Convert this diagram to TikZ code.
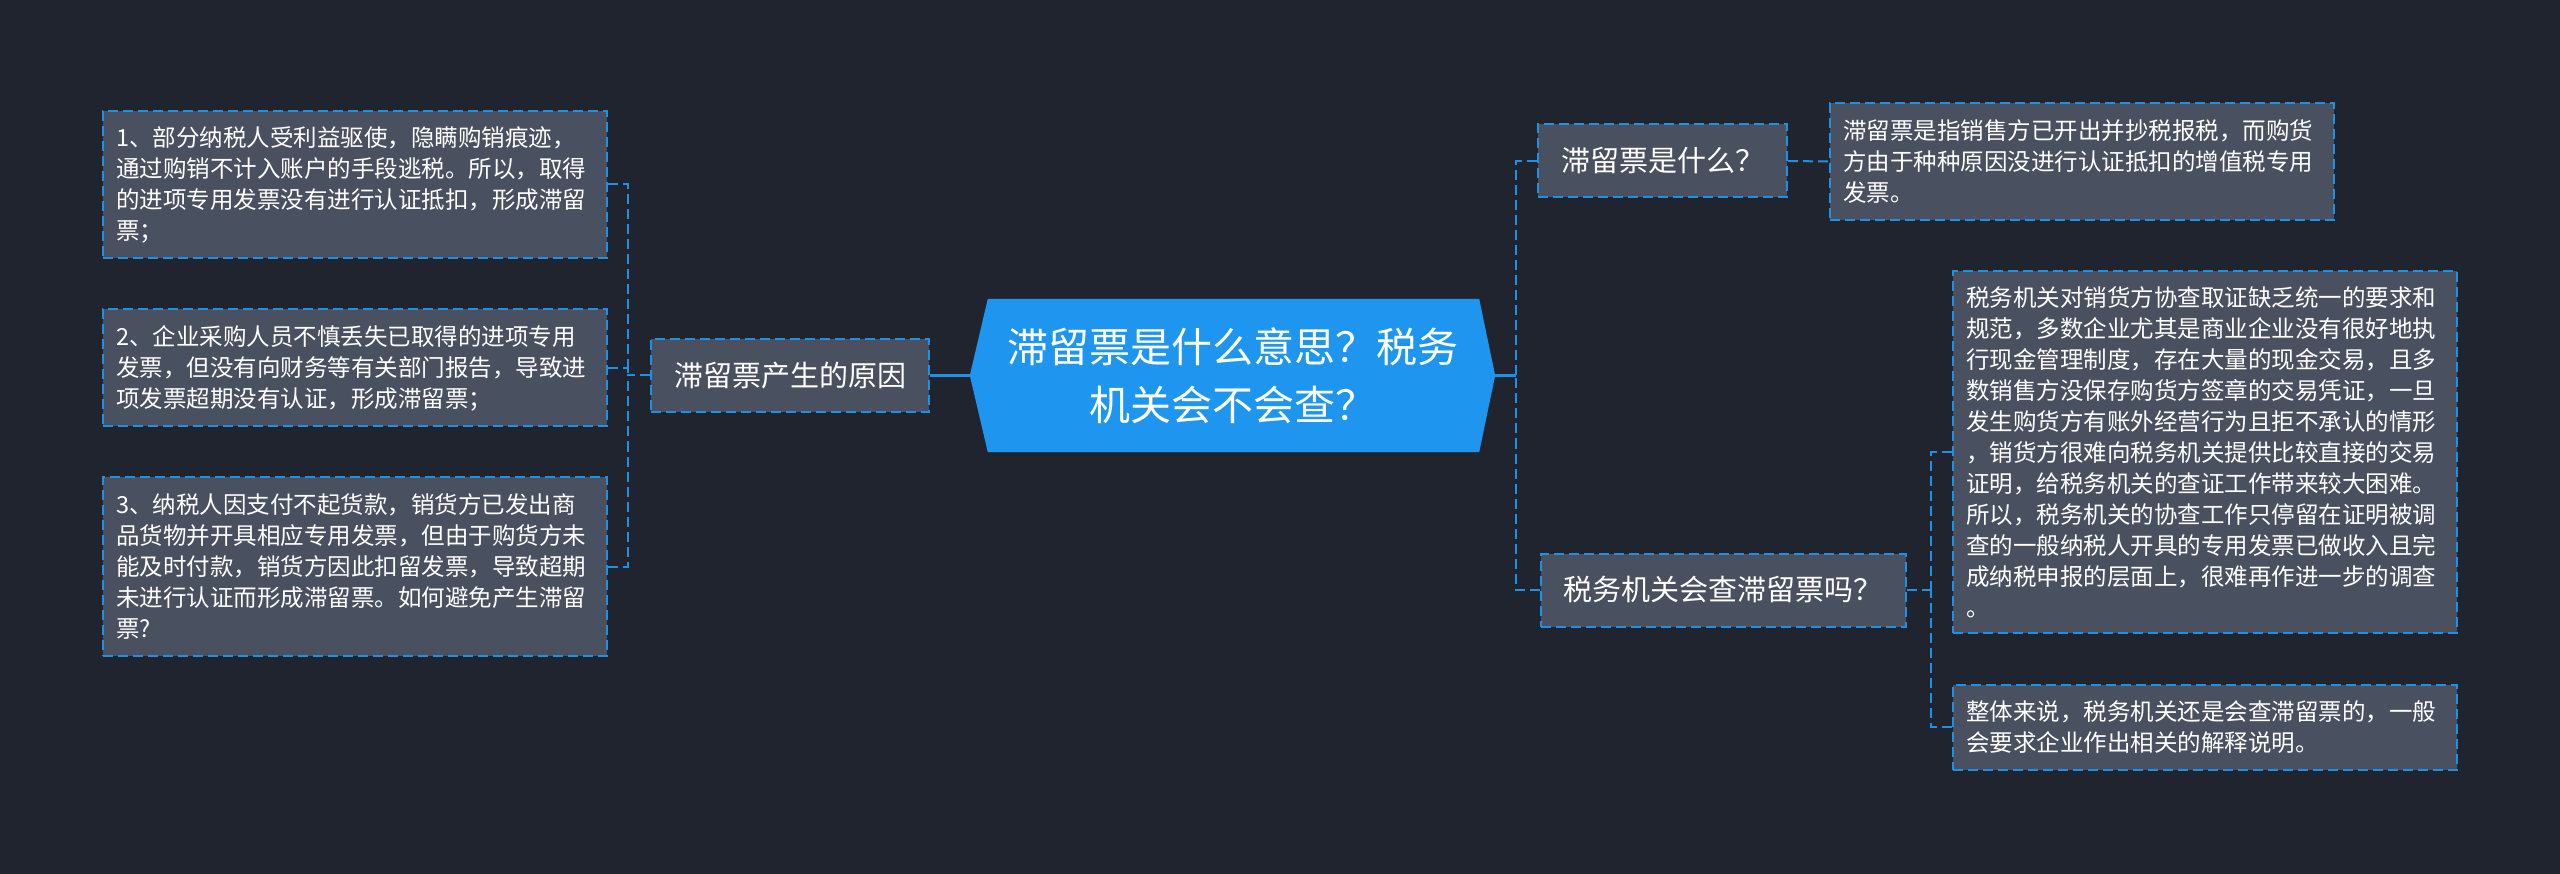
\documentclass[tikz,border=0pt]{standalone}
\usepackage{fontspec}
\setmainfont{Noto Sans CJK SC}
\usetikzlibrary{backgrounds}

\begin{document}
\begin{tikzpicture}[
  x=1pt, y=-1pt,
  every node/.style={text=white},
  leaf/.style={draw=lineBlue, fill=boxFill, line width=2pt, dash pattern=on 10pt off 5pt,
    align=left, text width=478pt, inner xsep=13pt, font=\fontsize{23.5}{31}\selectfont},
  topic/.style={draw=lineBlue, fill=boxFill, line width=2pt, dash pattern=on 10pt off 5pt,
    minimum height=73pt, inner xsep=23pt, font=\fontsize{29}{35}\selectfont},
  title/.style={minimum width=525pt, minimum height=153pt, align=center,
    font=\fontsize{41}{58}\selectfont},
  link/.style={draw=lineBlue, line width=2pt, dash pattern=on 10pt off 5pt},
  mainlink/.style={draw=lineBlue, line width=2.5pt},
]

\definecolor{bgDark}{RGB}{32,36,47}
\definecolor{boxFill}{RGB}{73,80,95}
\definecolor{lineBlue}{RGB}{27,145,232}
\definecolor{mainFill}{RGB}{30,150,240}

\useasboundingbox (0,0) rectangle (2560,874);

% Central topic.
\node[title] (main) at (1232.5,375.5) {滞留票是什么意思？税务\\机关会不会查？};

% Left branch.
\node[topic] (causes) at (790,375.5) {滞留票产生的原因};
\node[leaf, minimum height=147pt] (cause1) at (355,184.5) {1、部分纳税人受利益驱使，隐瞒购销痕迹，\\通过购销不计入账户的手段逃税。所以，取得\\的进项专用发票没有进行认证抵扣，形成滞留\\票；};
\node[leaf, minimum height=117pt] (cause2) at (355,368) {2、企业采购人员不慎丢失已取得的进项专用\\发票，但没有向财务等有关部门报告，导致进\\项发票超期没有认证，形成滞留票；};
\node[leaf, minimum height=179pt] (cause3) at (355,566.5) {3、纳税人因支付不起货款，销货方已发出商\\品货物并开具相应专用发票，但由于购货方未\\能及时付款，销货方因此扣留发票，导致超期\\未进行认证而形成滞留票。如何避免产生滞留\\票?};

% Right branch, upper.
\node[topic] (what) at (1662.5,161) {滞留票是什么？};
\node[leaf, minimum height=117pt] (whatdesc) at (2082,161.5) {滞留票是指销售方已开出并抄税报税，而购货\\方由于种种原因没进行认证抵扣的增值税专用\\发票。};

% Right branch, lower.
\node[topic] (check) at (1723,590) {税务机关会查滞留票吗？};
\node[leaf, minimum height=362pt] (checkdesc1) at (2205,452) {税务机关对销货方协查取证缺乏统一的要求和\\规范，多数企业尤其是商业企业没有很好地执\\行现金管理制度，存在大量的现金交易，且多\\数销售方没保存购货方签章的交易凭证，一旦\\发生购货方有账外经营行为且拒不承认的情形\\，销货方很难向税务机关提供比较直接的交易\\证明，给税务机关的查证工作带来较大困难。\\所以，税务机关的协查工作只停留在证明被调\\查的一般纳税人开具的专用发票已做收入且完\\成纳税申报的层面上，很难再作进一步的调查\\。};
\node[leaf, minimum height=85pt] (checkdesc2) at (2205,727) {整体来说，税务机关还是会查滞留票的，一般\\会要求企业作出相关的解释说明。};

% Fork points.
\coordinate (leftFork) at (628,375.5);
\coordinate (rightFork) at (1516,375.5);
\coordinate (checkFork) at (1931,590);

% Connectors.
\draw[mainlink] (causes.east) -- (main.west);
\draw[link] (causes.west) -- (leftFork);
\draw[link] (cause1.east) -| (leftFork);
\draw[link] (cause2.east) -| (leftFork);
\draw[link] (cause3.east) -| (leftFork);
\draw[mainlink] (main.east) -- (rightFork);
\draw[link] (what.west) -| (rightFork);
\draw[link] (check.west) -| (rightFork);
\draw[link] (what.east) -- (whatdesc.west);
\draw[link] (check.east) -- (checkFork);
\draw[link] (checkdesc1.west) -| (checkFork);
\draw[link] (checkdesc2.west) -| (checkFork);

% Background and hexagon.
\begin{scope}[on background layer]
  \fill[bgDark] (0,0) rectangle (2560,874);
  \fill[mainFill] (main.west) -- ([xshift=18pt]main.north west) -- ([xshift=-16pt]main.north east)
    -- (main.east) -- ([xshift=-16pt]main.south east) -- ([xshift=18pt]main.south west) -- cycle;
\end{scope}

\end{tikzpicture}
\end{document}
